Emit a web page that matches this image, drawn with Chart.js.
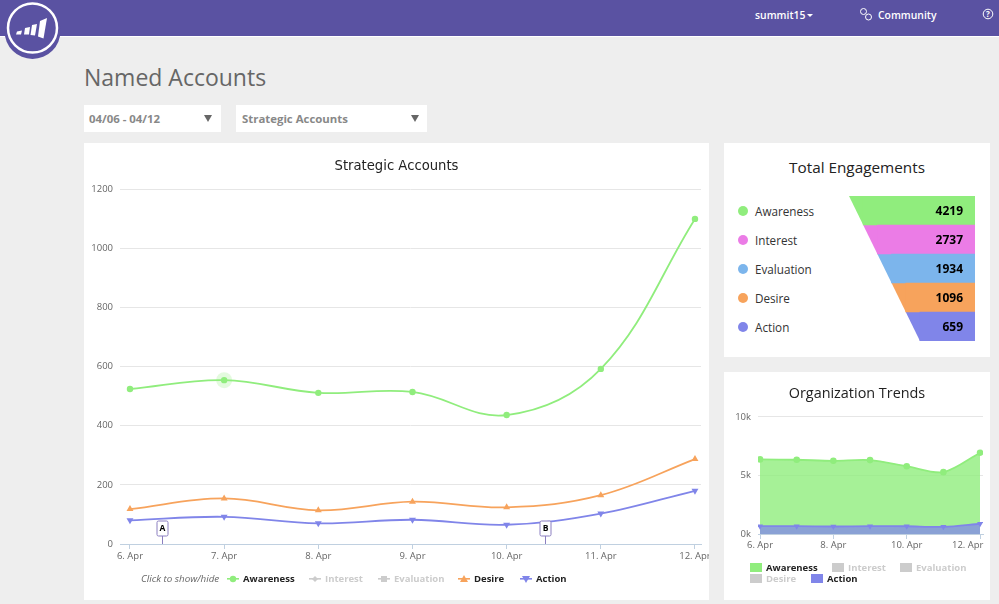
<!DOCTYPE html>
<html>
<head>
<meta charset="utf-8">
<title>Named Accounts</title>
<script src="https://cdn.jsdelivr.net/npm/chart.js@4"></script>
<style>
html, body { margin: 0; padding: 0; }
body { width: 999px; height: 604px; background: #eeeeee; overflow: hidden; position: relative; font-family: "Open Sans", sans-serif; }
.abs { position: absolute; white-space: nowrap; }
.panel { position: absolute; background: #fff; }
canvas { position: absolute; display: block; }
#topbar { position: absolute; left: 0; top: 0; width: 999px; height: 36px; background: #5a52a2; border-bottom: 1px solid #fff; }
.toptext { color: #fff; font-size: 10.4px; font-weight: 600; line-height: 16px; }
.select { position: absolute; top: 105px; height: 27px; background: #fff; color: #888; font-size: 11.4px; font-weight: 700; line-height: 28px; }
.select span { position: absolute; left: 5px; }
.select i { position: absolute; top: 10px; width: 0; height: 0; border-left: 4px solid transparent; border-right: 4px solid transparent; border-top: 7px solid #666; }
.lg { font-size: 9.5px; font-weight: 700; line-height: 14px; }
.dot { position: absolute; width: 10px; height: 10px; border-radius: 50%; }
.box { position: absolute; width: 12px; height: 9px; }
</style>
</head>
<body>
<div id="topbar"></div>
<svg class="abs" style="left:0;top:0" width="70" height="64">
  <circle cx="32.5" cy="31" r="28" fill="#5a52a2"/>
  <circle cx="32.5" cy="28" r="24.5" fill="#5a52a2" stroke="#fff" stroke-width="2.5"/>
  <polygon points="17,31.5 22,30.5 21,34.5 16,34.5" fill="#fff"/>
  <polygon points="25,28 30,27 29,34.5 24,34.5" fill="#fff"/>
  <polygon points="32,25 37,24 35,35.5 30.5,35" fill="#fff"/>
  <polygon points="40,21 47,18 43.5,38.5 38,36.5" fill="#fff"/>
</svg>
<div class="abs toptext" style="left:755px;top:7px">summit15</div>
<div class="abs" style="left:807px;top:14px;width:0;height:0;border-left:3px solid transparent;border-right:3px solid transparent;border-top:3px solid #fff"></div>
<svg class="abs" style="left:859px;top:7px" width="14" height="14" fill="none" stroke="#fff" stroke-width="1">
  <circle cx="4.5" cy="4.5" r="3"/><circle cx="9.5" cy="10" r="3"/>
</svg>
<div class="abs toptext" style="left:878px;top:7px">Community</div>
<svg class="abs" style="left:982px;top:8px" width="12" height="13" fill="none" stroke="#fff" stroke-width="1">
  <circle cx="6" cy="6" r="4.8"/>
  <text x="6" y="8.8" font-size="8" font-weight="700" fill="#fff" stroke="none" text-anchor="middle" font-family="Open Sans">?</text>
</svg>
<div class="abs" style="left:84px;top:61px;font-size:23px;line-height:32px;color:#666">Named Accounts</div>
<div class="select" style="left:84px;width:137px"><span>04/06 - 04/12</span><i style="left:120px"></i></div>
<div class="select" style="left:236px;width:191px"><span style="left:6px">Strategic Accounts</span><i style="left:175px"></i></div>

<div class="panel" style="left:84px;top:143px;width:625px;height:457px"></div>
<div class="panel" style="left:724px;top:143px;width:266px;height:214px"></div>
<div class="panel" style="left:724px;top:372px;width:266px;height:228px"></div>

<canvas id="strategic-accounts" width="625" height="457" style="left:84px;top:143px"></canvas>
<div class="abs" style="left:724px;top:156px;width:266px;text-align:center;font-size:15.3px;line-height:22px;color:#222">Total Engagements</div>
<canvas id="total-engagements" width="126" height="145" style="left:849px;top:196px"></canvas>
<canvas id="organization-trends" width="266" height="228" style="left:724px;top:372px"></canvas>
<div id="legends"></div>

<script>
var stageNames = ["Awareness", "Interest", "Evaluation", "Desire", "Action"];
var stageColors = ["#90ed7d", "#eb7ce6", "#7cb5ec", "#f7a35c", "#8085e9"];
var stageTotals = [4219, 2737, 1934, 1096, 659];
var dayLabels = ["6. Apr", "7. Apr", "8. Apr", "9. Apr", "10. Apr", "11. Apr", "12. Apr"];

var awarenessDaily = [524, 554, 511, 514, 436, 592, 1099];
var desireDaily = [118, 154, 114, 143, 124, 165, 287];
var actionDaily = [80, 92, 70, 82, 65, 103, 180];

var awarenessOrg = [6370, 6340, 6250, 6310, 5790, 5280, 6940];
var actionOrg = [670, 670, 640, 670, 660, 610, 875];

var flagNames = ["A", "B"];
var flagDays = [0.34, 4.407];

var gridColor = "#e6e6e6";
var axisColor = "#c0d0e0";
var tickColor = "#666";
var fontName = "'Open Sans', sans-serif";

function points(values) {
    return values.map(function(v, i) { return {x: i, y: v}; });
}

// labels are centred by the library, so trailing spaces push the last one back inside the plot
function dayTick(value) {
    return value == 6 ? dayLabels[6] + "\u00a0\u00a0\u00a0\u00a0\u00a0\u00a0\u00a0\u00a0\u00a0\u00a0" : dayLabels[value];
}

var flagPlugin = {
    id: "flags",
    afterDatasetsDraw: function(chart) {
        var ctx = chart.ctx;
        var bottom = chart.scales.y.bottom;
        ctx.save();
        flagDays.forEach(function(day, i) {
            var x = Math.round(chart.scales.x.getPixelForValue(day)) + 0.5;
            ctx.strokeStyle = "#8b7fc0";
            ctx.lineWidth = 1;
            ctx.beginPath();
            ctx.moveTo(x, bottom - 8);
            ctx.lineTo(x, bottom);
            ctx.stroke();
            ctx.fillStyle = "#fff";
            ctx.beginPath();
            ctx.roundRect(x - 5.5, bottom - 23, 11, 15, 1.5);
            ctx.fill();
            ctx.stroke();
            ctx.fillStyle = "#000";
            ctx.font = "700 8.5px " + fontName;
            ctx.textAlign = "center";
            ctx.textBaseline = "middle";
            ctx.fillText(flagNames[i], x, bottom - 15);
        });
        ctx.restore();
    }
};

// hover halo that is visible on the 7. Apr awareness point
var haloPlugin = {
    id: "halo",
    beforeDatasetsDraw: function(chart) {
        var p = chart.getDatasetMeta(0).data[1];
        var ctx = chart.ctx;
        ctx.save();
        ctx.fillStyle = "rgba(144,237,125,0.25)";
        ctx.beginPath();
        ctx.arc(p.x, p.y, 8, 0, Math.PI * 2);
        ctx.fill();
        ctx.restore();
    }
};

new Chart(document.getElementById("strategic-accounts").getContext("2d"), {
    type: "line",
    data: {
        datasets: [
            {label: "Awareness", data: points(awarenessDaily), borderColor: stageColors[0], backgroundColor: stageColors[0], pointStyle: "circle", pointRadius: 3.2},
            {label: "Interest", data: [], hidden: true, borderColor: "#ccc", backgroundColor: "#ccc"},
            {label: "Evaluation", data: [], hidden: true, borderColor: "#ccc", backgroundColor: "#ccc"},
            {label: "Desire", data: points(desireDaily), borderColor: stageColors[3], backgroundColor: stageColors[3], pointStyle: "triangle", pointRadius: 4},
            {label: "Action", data: points(actionDaily), borderColor: stageColors[4], backgroundColor: stageColors[4], pointStyle: "triangle", pointRotation: 180, pointRadius: 4}
        ]
    },
    options: {
        responsive: false,
        animation: false,
        layout: {padding: {left: 8, right: 8, bottom: 22}},
        elements: {line: {tension: 0.38, borderWidth: 1.8}, point: {borderWidth: 0}},
        plugins: {
            legend: {display: false},
            tooltip: {enabled: false},
            title: {display: true, text: "Strategic Accounts", color: "#222", font: {family: "'DejaVu Sans', sans-serif", size: 13.2, weight: "normal", lineHeight: 1.2}, padding: {top: 16, bottom: 14.2}}
        },
        scales: {
            x: {
                type: "linear",
                min: -0.106,
                max: 6.064,
                afterFit: function(scale) { scale.height = 34; scale.paddingLeft = 0; scale.paddingRight = 0; },
                grid: {drawOnChartArea: false, tickLength: 5, tickColor: axisColor},
                border: {color: axisColor},
                ticks: {stepSize: 1, includeBounds: false, autoSkip: false, maxRotation: 0, padding: 2, color: tickColor, font: {family: fontName, size: 9.5}, callback: function(v) { return dayLabels[v]; }}
            },
            y: {
                min: 0,
                max: 1200,
                afterFit: function(scale) { scale.width = 28; },
                grid: {color: gridColor, drawTicks: false},
                border: {display: false},
                ticks: {stepSize: 200, padding: 7, color: tickColor, font: {family: fontName, size: 9.5}, callback: function(v) { return String(v); }}
            }
        }
    },
    plugins: [flagPlugin, haloPlugin]
});

// funnel: the stage widths follow a fixed neck like the original, the values are printed inside
var funnelNeck = 0.563;
function funnelLeft(i) { return funnelNeck * i / stageNames.length; }

var funnelPlugin = {
    id: "funnel",
    beforeDatasetsDraw: function(chart) {
        var ctx = chart.ctx;
        var xs = chart.scales.x;
        ctx.save();
        chart.getDatasetMeta(0).data.forEach(function(bar, i) {
            var top = bar.y - bar.height / 2;
            var bottom = bar.y + bar.height / 2;
            ctx.fillStyle = stageColors[i];
            ctx.beginPath();
            ctx.moveTo(xs.getPixelForValue(funnelLeft(i)), top);
            ctx.lineTo(xs.getPixelForValue(funnelLeft(i + 1)) + 1, top);
            ctx.lineTo(xs.getPixelForValue(funnelLeft(i + 1)) + 1, bottom);
            ctx.lineTo(xs.getPixelForValue(funnelLeft(i + 1)), bottom);
            ctx.closePath();
            ctx.fill();
        });
        ctx.restore();
    },
    afterDatasetsDraw: function(chart) {
        var ctx = chart.ctx;
        ctx.save();
        ctx.fillStyle = "#000";
        ctx.font = "700 12px " + fontName;
        ctx.textAlign = "right";
        ctx.textBaseline = "middle";
        chart.getDatasetMeta(0).data.forEach(function(bar, i) {
            ctx.fillText(stageTotals[i], bar.x - 12, bar.y + 1);
        });
        ctx.restore();
    }
};

new Chart(document.getElementById("total-engagements").getContext("2d"), {
    type: "bar",
    data: {
        labels: stageNames,
        datasets: [{
            data: stageTotals.map(function(v, i) { return [funnelLeft(i + 1), 1]; }),
            backgroundColor: stageColors,
            barPercentage: 1,
            categoryPercentage: 1
        }]
    },
    options: {
        indexAxis: "y",
        responsive: false,
        animation: false,
        plugins: {legend: {display: false}, tooltip: {enabled: false}},
        scales: {
            x: {display: false, min: 0, max: 1},
            y: {display: false}
        }
    },
    plugins: [funnelPlugin]
});

new Chart(document.getElementById("organization-trends").getContext("2d"), {
    type: "line",
    data: {
        datasets: [
            {label: "Awareness", order: 1, data: points(awarenessOrg), borderColor: stageColors[0], backgroundColor: stageColors[0], fill: {target: "origin", above: "rgba(144,237,125,0.8)"}, pointStyle: "circle", pointRadius: 3.3},
            {label: "Interest", data: [], hidden: true},
            {label: "Evaluation", data: [], hidden: true},
            {label: "Desire", data: [], hidden: true},
            {label: "Action", order: 0, data: points(actionOrg), borderColor: stageColors[4], backgroundColor: stageColors[4], fill: {target: "origin", above: "rgba(128,133,233,0.75)"}, pointStyle: "triangle", pointRotation: 180, pointRadius: 3.5}
        ]
    },
    options: {
        responsive: false,
        animation: false,
        layout: {padding: {left: 7, right: 7, bottom: 42}},
        elements: {line: {tension: 0.3, borderWidth: 1.8}, point: {borderWidth: 0}},
        plugins: {
            legend: {display: false},
            tooltip: {enabled: false},
            title: {display: true, text: "Organization Trends", color: "#222", font: {family: fontName, size: 14.4, weight: "normal", lineHeight: 1.2}, padding: {top: 13.3, bottom: 14.3}}
        },
        scales: {
            x: {
                type: "linear",
                min: -0.055,
                max: 6.08,
                afterFit: function(scale) { scale.height = 24; scale.paddingLeft = 0; scale.paddingRight = 0; },
                grid: {drawOnChartArea: false, tickLength: 5, tickColor: axisColor},
                border: {color: axisColor},
                ticks: {stepSize: 2, includeBounds: false, autoSkip: false, maxRotation: 0, padding: 1, color: tickColor, font: {family: fontName, size: 9.5}, callback: dayTick}
            },
            y: {
                min: 0,
                max: 10000,
                afterFit: function(scale) { scale.width = 27; },
                grid: {color: gridColor, drawTicks: false},
                border: {display: false},
                ticks: {stepSize: 5000, padding: 7, color: tickColor, font: {family: fontName, size: 9.5}, callback: function(v) { return (v / 1000) + "k"; }}
            }
        }
    }
});

// legends are plain html next to the canvases
var legends = document.getElementById("legends");

function addText(text, left, centerY, css, color) {
    var el = document.createElement("div");
    el.className = "abs " + css;
    el.textContent = text;
    el.style.left = left + "px";
    el.style.top = (centerY - 7) + "px";
    el.style.color = color;
    legends.appendChild(el);
    return el;
}

function addShape(css, left, top, color) {
    var el = document.createElement("div");
    el.className = css;
    el.style.left = left + "px";
    el.style.top = top + "px";
    el.style.background = color;
    legends.appendChild(el);
}

var funnelRows = [211, 240, 269, 298, 327];
stageNames.forEach(function(name, i) {
    addShape("dot", 738, funnelRows[i] - 5, stageColors[i]);
    var t = addText(name, 755, funnelRows[i], "", "#333");
    t.style.fontSize = "11.7px";
    t.style.lineHeight = "14px";
});

var note = addText("Click to show/hide", 141, 579, "", "#666");
note.style.fontSize = "9.8px";
note.style.fontStyle = "italic";
note.style.lineHeight = "14px";

var mainLeft = [227, 309, 378, 458, 520];
var mainShown = [true, false, false, true, true];
var mainMarks = [
    '<circle cx="6" cy="5" r="3.2"/>',
    '<polygon points="6,2 9,5 6,8 3,5"/>',
    '<rect x="3" y="2" width="6" height="6"/>',
    '<polygon points="6,1 10,8 2,8"/>',
    '<polygon points="6,9 10,2 2,2"/>'
];
stageNames.forEach(function(name, i) {
    var color = mainShown[i] ? stageColors[i] : "#ccc";
    var holder = document.createElement("div");
    holder.innerHTML = '<svg class="abs" style="left:' + mainLeft[i] + 'px;top:574px" width="12" height="10" fill="' + color + '"><rect x="0" y="4" width="12" height="1.6"/>' + mainMarks[i] + '</svg>';
    legends.appendChild(holder);
    addText(name, mainLeft[i] + 16, 579, "lg", mainShown[i] ? "#222" : "#ccc");
});

var orgLeft = [750, 832, 900, 750, 811];
var orgRow = [568, 568, 568, 579, 579];
var orgShown = [true, false, false, false, true];
stageNames.forEach(function(name, i) {
    addShape("box", orgLeft[i], orgRow[i] - 5, orgShown[i] ? stageColors[i] : "#ccc");
    addText(name, orgLeft[i] + 16, orgRow[i], "lg", orgShown[i] ? "#222" : "#ccc");
});
</script>
</body>
</html>
